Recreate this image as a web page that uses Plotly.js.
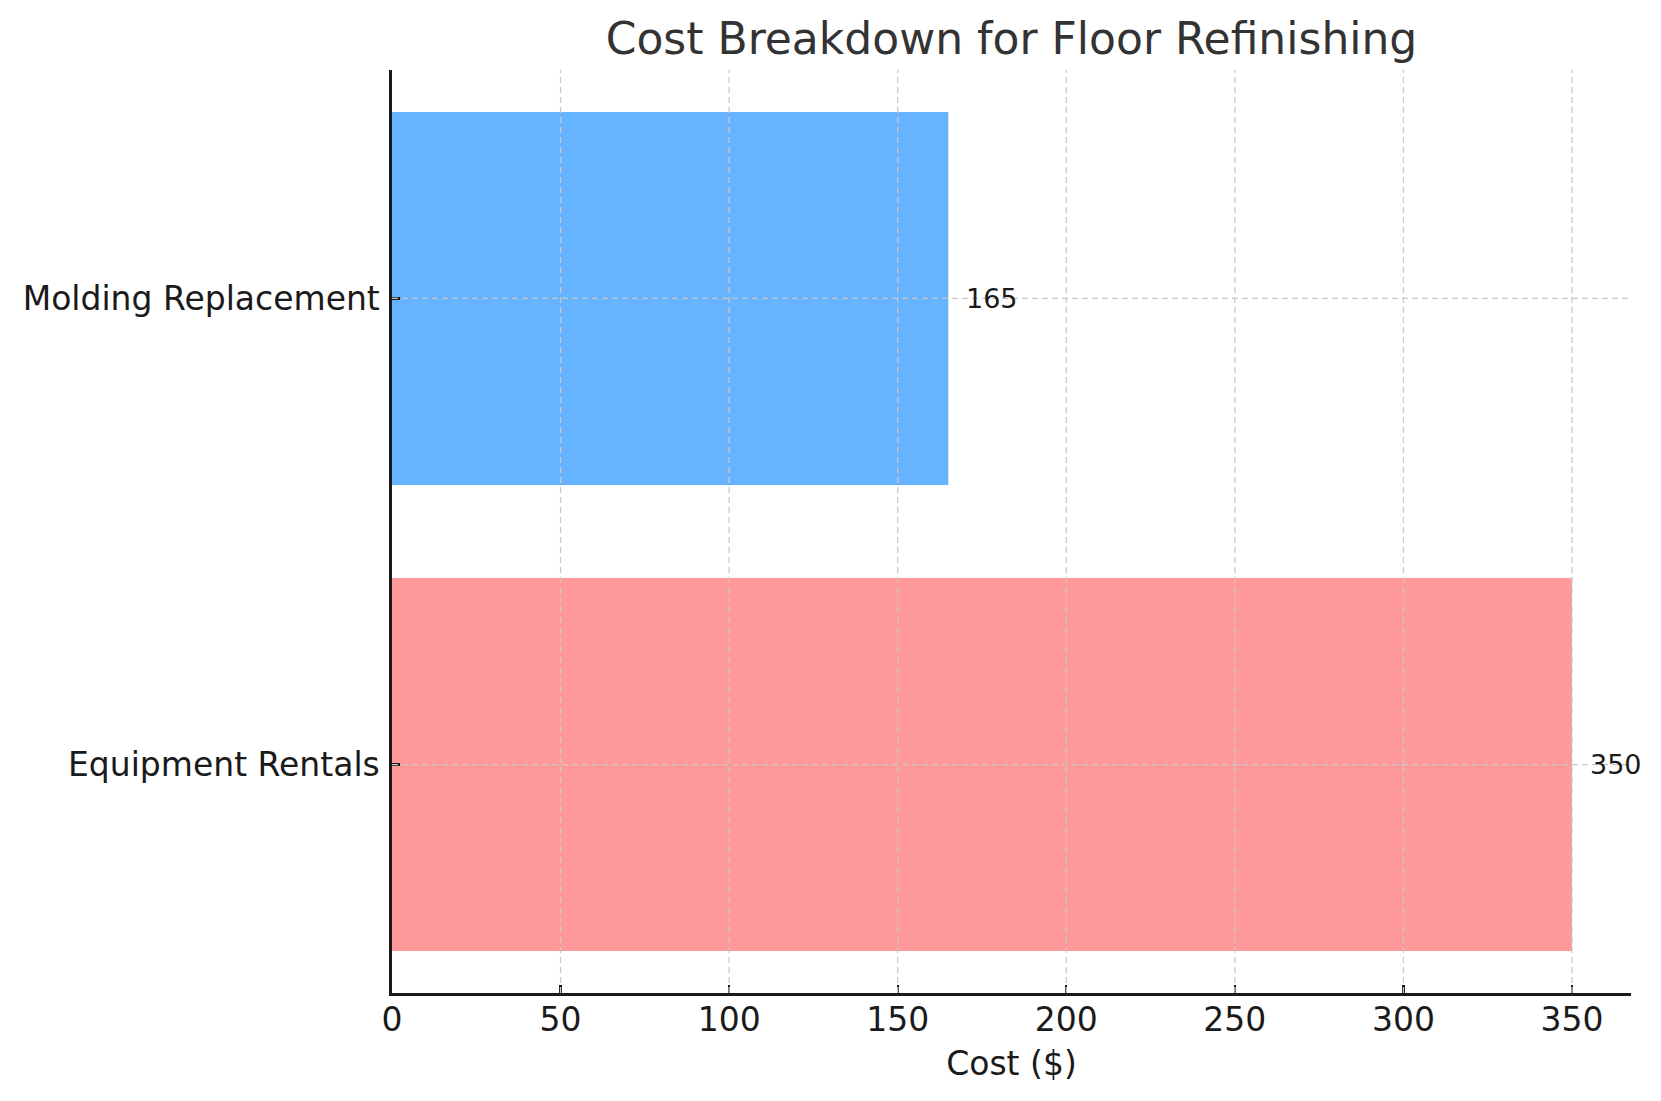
<!DOCTYPE html>
<html>
<head>
<meta charset="utf-8">
<script src="https://cdn.plot.ly/plotly-3.0.1.min.js"></script>
<style>
  body { margin: 0; background: #fff; }
  #chart { width: 1661px; height: 1101px; }
</style>
</head>
<body>
<div id="chart"></div>
<script>
var categories = ["Equipment Rentals", "Molding Replacement"];
var costs = [350, 165];
var barColors = ["#ff9999", "#66b3ff"];
var xTicks = [0, 50, 100, 150, 200, 250, 300, 350];

var font = "DejaVu Sans, sans-serif";

var bars = {
    type: "bar",
    orientation: "h",
    x: costs,
    y: categories,
    width: 0.8,
    marker: {color: barColors},
    hoverinfo: "x+y"
};

// value labels just right of each bar
var labels = costs.map(function(v, i) {
    return {
        x: v, y: categories[i], xref: "x", yref: "y",
        text: String(v), showarrow: false,
        xanchor: "left", xshift: 16,
        font: {family: font, size: 27, color: "#1a1a1a"}
    };
});

// dashed grid drawn over the bars, like the original
var gridStyle = {color: "#c8c8c8", width: 1.3, dash: "6px,4px"};
var grid = xTicks.slice(1).map(function(t) {
    return {type: "line", xref: "x", yref: "paper", x0: t, x1: t, y0: 0, y1: 1,
            layer: "above", line: gridStyle};
}).concat(categories.map(function(c) {
    return {type: "line", xref: "paper", yref: "y", x0: 0, x1: 1, y0: c, y1: c,
            layer: "above", line: gridStyle};
}));

var layout = {
    width: 1661,
    height: 1101,
    margin: {l: 392, r: 30, t: 70, b: 108},
    paper_bgcolor: "#fff",
    plot_bgcolor: "#fff",
    showlegend: false,
    font: {family: font, color: "#1a1a1a"},
    title: {
        text: "Cost Breakdown for Floor Refinishing",
        font: {family: font, size: 44, color: "#333333"},
        x: 0.5, xref: "paper", xanchor: "center",
        y: 1 - 39 / 1101, yref: "container", yanchor: "middle"
    },
    xaxis: {
        range: [0, 367.5],
        tickvals: xTicks,
        ticktext: xTicks.map(String),
        showgrid: false,
        zeroline: false,
        showline: true, linecolor: "#1a1a1a", linewidth: 2.6,
        ticks: "inside", ticklen: 8, tickwidth: 2.4, tickcolor: "#1a1a1a",
        ticklabelstandoff: -4,
        layer: "above traces",
        tickfont: {family: font, size: 33, color: "#1a1a1a"},
        title: {text: "Cost ($)", font: {family: font, size: 33, color: "#1a1a1a"}, standoff: 14}
    },
    yaxis: {
        range: [-0.49, 1.49],
        type: "category",
        showgrid: false,
        zeroline: false,
        showline: true, linecolor: "#1a1a1a", linewidth: 2.6,
        ticks: "inside", ticklen: 8, tickwidth: 2.4, tickcolor: "#1a1a1a",
        ticklabelstandoff: 3,
        layer: "above traces",
        tickfont: {family: font, size: 33, color: "#1a1a1a"}
    },
    annotations: labels,
    shapes: grid
};

Plotly.newPlot("chart", [bars], layout, {staticPlot: true});
</script>
</body>
</html>
